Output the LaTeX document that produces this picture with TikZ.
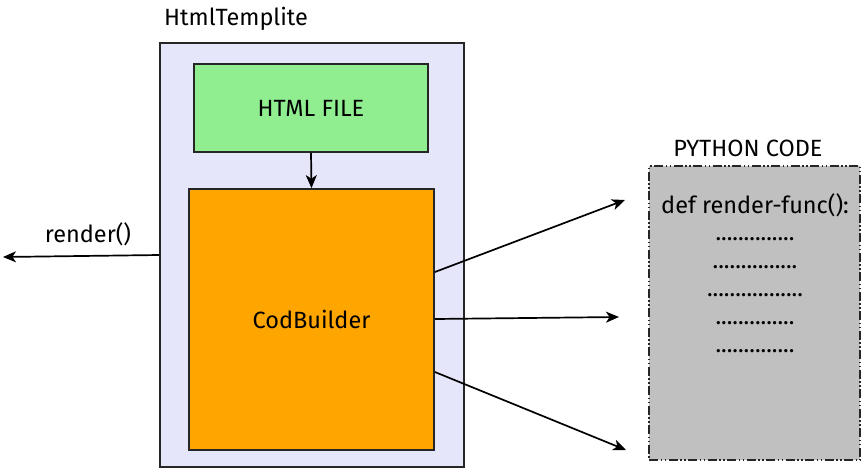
\documentclass[tikz,border=0pt]{standalone}
\usepackage{fontspec}
\setmainfont{Fira Sans}
\usetikzlibrary{arrows.meta,positioning,calc}
\definecolor{tmplbg}{RGB}{230,230,250}
\definecolor{htmlgreen}{RGB}{144,238,144}
\definecolor{builderorange}{RGB}{255,165,0}
\definecolor{codegray}{RGB}{192,192,192}
\tikzset{
  box/.style={draw=black!85,line width=1.8pt,inner sep=0pt,font=\fontsize{23.5}{27}\selectfont},
  arrow/.style={line width=1.7pt,-{Stealth[length=13pt,width=11pt,inset=3.5pt]}},
  lbl/.style={inner sep=0pt,font=\fontsize{23.5}{27}\selectfont}
}

\begin{document}
\begin{tikzpicture}[x=1pt,y=-1pt]
\useasboundingbox (0,0) rectangle (861,469);
% template frame and its parts
\node[box,fill=tmplbg,minimum width=304pt,minimum height=424pt] (tmpl) at (312,255) {};
\node[lbl,anchor=west] (tmpllbl) at (164,19) {HtmlTemplite};
\node[box,fill=htmlgreen,minimum width=234pt,minimum height=88pt] (htmlfile) at (311,108) {HTML FILE};
\node[box,fill=builderorange,minimum width=245pt,minimum height=261pt] (builder) at (311.5,319.5) {CodBuilder};
\draw[arrow] (htmlfile.south) -- (builder.north);
% render() output
\coordinate (rendend) at (3,257);
\draw[arrow] (tmpl.west) -- (rendend);
\node[lbl] (renderlbl) at (88,234) {render()};
% generated code
\node[box,fill=codegray,minimum width=211pt,minimum height=294pt,
  dash pattern=on 9pt off 2.5pt on 1.5pt off 2.5pt on 1.5pt off 2.5pt] (pycode) at (754.5,313) {};
\node[lbl] (pylbl) at (748,148) {PYTHON CODE};
\node[lbl] (deffunc) at (755,205) {def render-func():};
\foreach \y/\d in {240/14,268/15,296/17,324/14,352/14}{
  \node[lbl,anchor=base] at (755,\y) {\foreach \i in {1,...,\d}{.}};
}
\coordinate (out1) at (625,200);
\coordinate (out2) at (619,317);
\coordinate (out3) at (626,450);
\draw[arrow] ([yshift=47.5pt]builder.east) -- (out1);
\draw[arrow] ([yshift=0.5pt]builder.east) -- (out2);
\draw[arrow] ([yshift=-52.5pt]builder.east) -- (out3);
\end{tikzpicture}
\end{document}
